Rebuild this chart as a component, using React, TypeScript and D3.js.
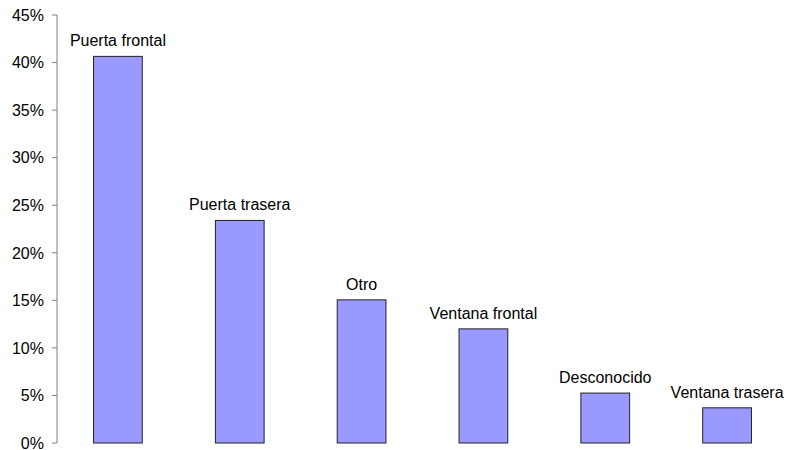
import React from "react";
import * as d3 from "d3";

const categories = [
  "Puerta frontal",
  "Puerta trasera",
  "Otro",
  "Ventana frontal",
  "Desconocido",
  "Ventana trasera",
];
const values = [40.65, 23.4, 15.05, 12.0, 5.25, 3.7];
const yTicks = [0, 5, 10, 15, 20, 25, 30, 35, 40, 45];

const width = 788;
const height = 450;
const axisX = 57;
const top = 15;
const bottom = 443;

export default function App() {
  const x = d3
    .scaleBand<string>()
    .domain(categories)
    .range([axisX, 788])
    .paddingInner(0.6)
    .paddingOuter(0.3);

  const y = d3.scaleLinear().domain([0, 45]).range([bottom, top]);

  const font = "Liberation Sans, Arial, sans-serif";

  return (
    <svg
      width={width}
      height={height}
      style={{ position: "absolute", left: 0, top: 0, background: "#fff" }}
    >
      {/* bars */}
      {categories.map((c, i) => (
        <rect
          key={c}
          x={x(c)!}
          y={y(values[i])}
          width={x.bandwidth()}
          height={y(0) - y(values[i])}
          fill="#9999FF"
          stroke="#222"
          strokeWidth={1}
        />
      ))}

      {/* bar labels */}
      {categories.map((c, i) => (
        <text
          key={c + "-lbl"}
          x={x(c)! + x.bandwidth() / 2}
          y={y(values[i]) - 10}
          textAnchor="middle"
          fontFamily={font}
          fontSize={16}
          fill="#000"
        >
          {c}
        </text>
      ))}

      {/* y axis */}
      <line x1={axisX} x2={axisX} y1={y(45)} y2={y(0)} stroke="#808080" strokeWidth={1} />
      {yTicks.map((t) => (
        <g key={t}>
          <line x1={axisX - 5} x2={axisX} y1={y(t)} y2={y(t)} stroke="#808080" strokeWidth={1} />
          <text
            x={44}
            y={y(t)}
            dy="0.36em"
            textAnchor="end"
            fontFamily={font}
            fontSize={16}
            fill="#000"
          >
            {t}%
          </text>
        </g>
      ))}
    </svg>
  );
}
